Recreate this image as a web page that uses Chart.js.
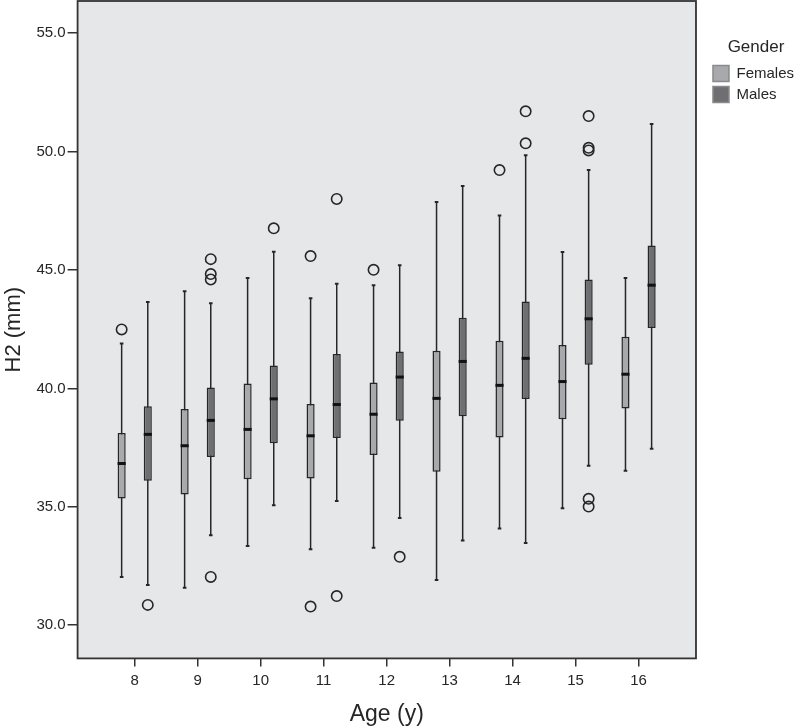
<!DOCTYPE html>
<html>
<head>
<meta charset="utf-8">
<script src="https://cdn.jsdelivr.net/npm/chart.js@4/dist/chart.umd.min.js"></script>
<style>
  html, body { margin: 0; padding: 0; background: #fff; }
  #wrap { width: 798px; height: 728px; }
</style>
</head>
<body>
<div id="wrap"><canvas id="myChart" width="798" height="728"></canvas></div>
<script>
// ages on the x axis
const ages = [8, 9, 10, 11, 12, 13, 14, 15, 16];
const yTicks = [30, 35, 40, 45, 50, 55];

// females
const femaleLow = [32.04, 31.58, 33.35, 33.21, 33.27, 31.91, 34.09, 34.94, 36.52];
const femaleQ1 = [35.35, 35.52, 36.16, 36.20, 37.19, 36.48, 37.93, 38.70, 39.15];
const femaleMedian = [36.83, 37.58, 38.27, 38.00, 38.91, 39.58, 40.13, 40.29, 40.60];
const femaleQ3 = [38.12, 39.13, 40.21, 39.34, 40.25, 41.59, 42.01, 41.83, 42.18];
const femaleHigh = [41.90, 44.10, 44.66, 43.81, 44.36, 47.87, 47.30, 45.76, 44.66];
const femaleOutliers = [[42.49], [], [], [45.59, 30.79], [45.01], [], [49.22], [], []];

// males
const maleLow = [31.70, 33.80, 35.07, 35.25, 34.53, 33.58, 33.47, 36.73, 37.45];
const maleQ1 = [36.10, 37.10, 37.69, 37.91, 38.63, 38.83, 39.55, 41.00, 42.55];
const maleMedian = [38.06, 38.65, 39.56, 39.32, 40.48, 41.14, 41.27, 42.94, 44.36];
const maleQ3 = [39.25, 40.04, 40.97, 41.45, 41.56, 42.98, 43.67, 44.60, 46.04];
const maleHigh = [43.65, 43.60, 45.77, 44.42, 45.20, 48.55, 49.85, 49.22, 51.17];
const maleOutliers = [[30.86], [45.46, 44.83, 44.60, 32.04], [46.76], [48.0, 31.23], [32.89], [], [51.70, 50.35], [51.50, 50.16, 50.05, 35.34, 35.01], []];

const stats = [
  {low: femaleLow, med: femaleMedian, high: femaleHigh, out: femaleOutliers},
  {low: maleLow, med: maleMedian, high: maleHigh, out: maleOutliers}
];

const ink = '#262626';
const fontFam = '"Liberation Sans", Arial, sans-serif';

const boxPlugin = {
  id: 'boxExtras',
  afterLayout(chart) {
    // legend sits a little away from the plot frame
    chart.legend.left += 12;
    chart.legend.right += 2;
  },
  beforeDraw(chart) {
    const {ctx, chartArea: a} = chart;
    ctx.save();
    ctx.fillStyle = '#e6e7e8';
    ctx.fillRect(a.left, a.top, a.right - a.left, a.bottom - a.top);
    ctx.restore();
  },
  beforeDatasetsDraw(chart) {
    const {ctx} = chart;
    const y = chart.scales.y;
    ctx.save();
    ctx.strokeStyle = ink;
    stats.forEach((s, d) => {
      chart.getDatasetMeta(d).data.forEach((bar, i) => {
        const top = y.getPixelForValue(s.high[i]);
        const bot = y.getPixelForValue(s.low[i]);
        ctx.lineWidth = 1.5;
        ctx.beginPath();
        ctx.moveTo(bar.x, top);
        ctx.lineTo(bar.x, bot);
        ctx.stroke();
        ctx.lineWidth = 2;
        ctx.beginPath();
        ctx.moveTo(bar.x - 1.8, top);
        ctx.lineTo(bar.x + 1.8, top);
        ctx.moveTo(bar.x - 1.8, bot);
        ctx.lineTo(bar.x + 1.8, bot);
        ctx.stroke();
      });
    });
    ctx.restore();
  },
  afterDatasetsDraw(chart) {
    const {ctx, chartArea: a} = chart;
    const y = chart.scales.y;
    ctx.save();
    stats.forEach((s, d) => {
      chart.getDatasetMeta(d).data.forEach((bar, i) => {
        const m = y.getPixelForValue(s.med[i]);
        ctx.strokeStyle = '#111';
        ctx.lineWidth = 3;
        ctx.beginPath();
        ctx.moveTo(bar.x - bar.width / 2, m);
        ctx.lineTo(bar.x + bar.width / 2, m);
        ctx.stroke();
        ctx.strokeStyle = ink;
        ctx.lineWidth = 1.6;
        s.out[i].forEach(v => {
          ctx.beginPath();
          ctx.arc(bar.x, y.getPixelForValue(v), 5.2, 0, Math.PI * 2);
          ctx.stroke();
        });
      });
    });
    // frame
    ctx.strokeStyle = '#333';
    ctx.lineWidth = 1.8;
    ctx.strokeRect(a.left, a.top, a.right - a.left, a.bottom - a.top);
    ctx.restore();
  }
};

new Chart('myChart', {
  type: 'bar',
  data: {
    datasets: [
      {
        label: 'Females',
        data: ages.map((a, i) => ({x: a, y: [femaleQ1[i], femaleQ3[i]]})),
        backgroundColor: '#a8a9ac',
        borderColor: ink,
        borderWidth: 1.5,
        borderSkipped: false
      },
      {
        label: 'Males',
        data: ages.map((a, i) => ({x: a, y: [maleQ1[i], maleQ3[i]]})),
        backgroundColor: '#6e6f72',
        borderColor: ink,
        borderWidth: 1.5,
        borderSkipped: false
      }
    ]
  },
  options: {
    responsive: false,
    animation: false,
    categoryPercentage: 0.83,
    barPercentage: 0.31,
    layout: {padding: {top: 1, bottom: 0, left: 1, right: 6}},
    scales: {
      x: {
        type: 'linear',
        offset: false,
        min: 7.093,
        max: 16.912,
        afterBuildTicks: scale => { scale.ticks = ages.map(v => ({value: v})); },
        grid: {offset: false, drawOnChartArea: false, drawTicks: true, tickLength: 8, color: '#333', lineWidth: 1.5},
        border: {display: false},
        ticks: {color: ink, font: {family: fontFam, size: 15}, padding: 5},
        title: {display: true, text: 'Age (y)', color: ink, font: {family: fontFam, size: 23}, padding: {top: 6, bottom: 0}}
      },
      y: {
        min: 28.6,
        max: 56.36,
        afterBuildTicks: scale => { scale.ticks = yTicks.map(v => ({value: v})); },
        afterFit: scale => { scale.paddingTop = 0; scale.paddingBottom = 0; },
        grid: {drawOnChartArea: false, drawTicks: true, tickLength: 10, color: '#333', lineWidth: 1.5},
        border: {display: false},
        ticks: {color: ink, font: {family: fontFam, size: 15}, padding: 2, callback: v => v.toFixed(1)},
        title: {display: true, text: 'H2 (mm)', color: ink, font: {family: fontFam, size: 22}, padding: {top: 0, bottom: 7}}
      }
    },
    plugins: {
      tooltip: {enabled: false},
      legend: {
        position: 'right',
        align: 'start',
        title: {display: true, text: 'Gender', color: ink, font: {family: fontFam, size: 17}, padding: {top: 38, bottom: 1}},
        labels: {
          boxWidth: 16,
          boxHeight: 16,
          padding: 5,
          color: ink,
          font: {family: fontFam, size: 15},
          generateLabels: chart => Chart.defaults.plugins.legend.labels.generateLabels(chart).map(l => {
            l.strokeStyle = '#8a8a8a';
            l.lineWidth = 1.5;
            return l;
          })
        }
      }
    }
  },
  plugins: [boxPlugin]
});
</script>
</body>
</html>
